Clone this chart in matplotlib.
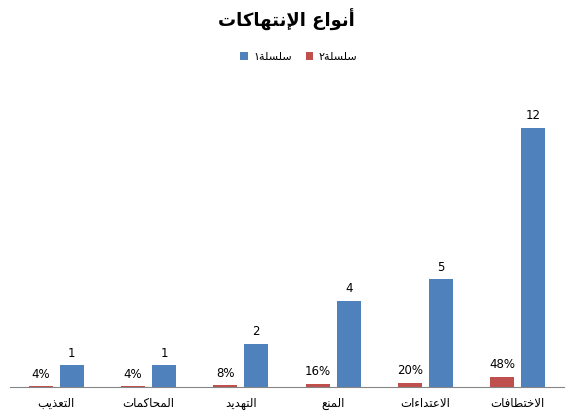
import numpy as np
import matplotlib
matplotlib.use('Agg')
import matplotlib.pyplot as plt

# chart data (RTL order: first category is drawn on the right)
categories = ['الاختطافات', 'الاعتداءات', 'المنع', 'التهديد', 'المحاكمات', 'التعذيب']
series1 = [12, 5, 4, 2, 1, 1]
series2 = [0.48, 0.20, 0.16, 0.08, 0.04, 0.04]
series_names = ['سلسلة١', 'سلسلة٢']
title = 'أنواع الإنتهاكات'

# --- minimal arabic shaping (matplotlib has no complex text layout) ---
FORMS = {'ء': (0xFE80, 1), 'أ': (0xFE83, 2), 'إ': (0xFE87, 2), 'ا': (0xFE8D, 2),
         'ب': (0xFE8F, 4), 'ة': (0xFE93, 2), 'ت': (0xFE95, 4), 'ح': (0xFEA1, 4),
         'خ': (0xFEA5, 4), 'د': (0xFEA9, 2), 'ذ': (0xFEAB, 2), 'س': (0xFEB1, 4),
         'ط': (0xFEC1, 4), 'ع': (0xFEC9, 4), 'ف': (0xFED1, 4), 'ك': (0xFED9, 4),
         'ل': (0xFEDD, 4), 'م': (0xFEE1, 4), 'ن': (0xFEE5, 4), 'ه': (0xFEE9, 4),
         'و': (0xFEED, 2), 'ي': (0xFEF1, 4)}
LAMALEF = {'ا': 0xFEFB, 'أ': 0xFEF7, 'إ': 0xFEF9}


def shape(text):
    toks = []
    i = 0
    while i < len(text):
        ch = text[i]
        if ch == 'ل' and i + 1 < len(text) and text[i + 1] in LAMALEF:
            toks.append((LAMALEF[text[i + 1]], 2))
            i += 2
            continue
        if ch in FORMS:
            toks.append(FORMS[ch])
        else:
            toks.append((ch, 0))
        i += 1
    out = []
    for k, (base, n) in enumerate(toks):
        if n == 0:
            out.append(base)
            continue
        prev = k > 0 and toks[k - 1][1] == 4
        nxt = n == 4 and k + 1 < len(toks) and toks[k + 1][1] >= 2
        if n == 1:
            idx = 0
        elif prev and nxt:
            idx = 3
        elif prev:
            idx = 1
        elif nxt:
            idx = 2
        else:
            idx = 0
        out.append(chr(base + idx))
    return ''.join(out)[::-1]


plt.rcParams['font.family'] = ['DejaVu Sans']

blue = '#4F81BD'
red = '#C0504D'

fig = plt.figure(figsize=(5.77, 4.18), dpi=100)
ax = fig.add_axes([0.0173, 0.0742, 0.9602, 0.7228])

x = np.arange(len(categories))
w = 0.26
off = 0.168
b1 = ax.bar(x - off, series1, w, color=blue, label=shape(series_names[0]))
b2 = ax.bar(x + off, series2, w, color=red, label=shape(series_names[1]))

ax.bar_label(b1, labels=[str(v) for v in series1], padding=4, fontsize=8.5)
ax.bar_label(b2, labels=[f'{v:.0%}' for v in series2], padding=4, fontsize=8.5)

ax.set_xlim(-0.5, len(categories) - 0.5)
ax.invert_xaxis()
ax.set_ylim(0, 14)
ax.set_xticks(x)
ax.set_xticklabels([shape(c) for c in categories], fontsize=8.5)
ax.tick_params(axis='x', length=0, pad=7)
ax.set_yticks([])
for s in ['top', 'left', 'right']:
    ax.spines[s].set_visible(False)
ax.spines['bottom'].set_color('#868686')

fig.text(0.497, 0.952, shape(title), ha='center', va='center',
         fontsize=13, fontweight='bold')

fig.legend(handles=[b1, b2], loc='center', bbox_to_anchor=(0.518, 0.864),
           ncol=2, frameon=False, fontsize=8, handlelength=0.7,
           handleheight=0.7, handletextpad=0.5, columnspacing=1.2)

fig.savefig('out.png', dpi=100)
